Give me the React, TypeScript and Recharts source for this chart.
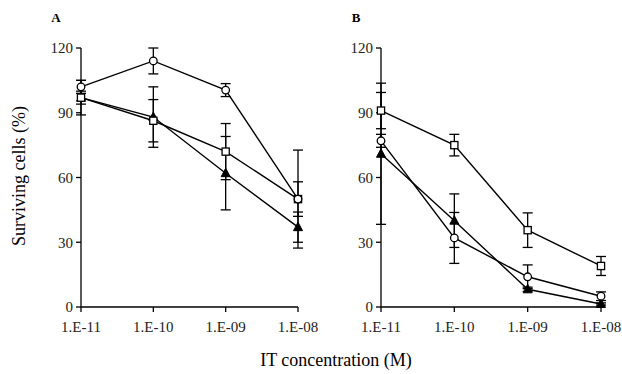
import React from "react";
import { LineChart, Line, XAxis, YAxis, ErrorBar } from "recharts";

const xLabels = ["1.E-11", "1.E-10", "1.E-09", "1.E-08"];
const yTicks = [0, 30, 60, 90, 120];

// Panel A
const circleA = [102, 114, 100.5, 50];
const circleAErr = [3, 6, 3, 22.7];
const squareA = [97, 86.3, 72, 50];
const squareAErr = [3, 9.8, 13, 8];
const triangleA = [97, 88, 62, 37];
const triangleAErr = [8, 14, 17, 7];

// Panel B
const circleB = [77, 32, 14, 5];
const circleBErr = [3, 11.8, 5.5, 2];
const squareB = [91, 75, 35.6, 19];
const squareBErr = [8.4, 5, 8, 4.4];
const triangleB = [71, 40, 8.2, 1.4];
const triangleBErr = [32.7, 12.4, 1, 0.5];

const build = (c: number[], ce: number[], s: number[], se: number[], t: number[], te: number[]) =>
  xLabels.map((_, i) => ({ x: i, c: c[i], ce: ce[i], s: s[i], se: se[i], t: t[i], te: te[i] }));

const dataA = build(circleA, circleAErr, squareA, squareAErr, triangleA, triangleAErr);
const dataB = build(circleB, circleBErr, squareB, squareBErr, triangleB, triangleBErr);

const FONT = "Liberation Serif";

const CircleDot = (p: any) => (
  <circle key={`c${p.index}`} cx={p.cx} cy={p.cy} r={3.8} fill="#fff" stroke="#000" strokeWidth={1.3} />
);
const SquareDot = (p: any) => (
  <rect key={`s${p.index}`} x={p.cx - 3.6} y={p.cy - 3.6} width={7.2} height={7.2} fill="#fff" stroke="#000" strokeWidth={1.3} />
);
const TriangleDot = (p: any) => (
  <polygon
    key={`t${p.index}`}
    points={`${p.cx},${p.cy - 5} ${p.cx - 4.5},${p.cy + 3.5} ${p.cx + 4.5},${p.cy + 3.5}`}
    fill="#000"
    stroke="#000"
    strokeWidth={1}
  />
);

const tickStyle = { fontFamily: FONT, fontSize: 15, fill: "#222" };

const Panel = ({ data, width, right }: { data: any[]; width: number; right: number }) => (
  <LineChart width={width} height={374} data={data} margin={{ top: 48, right, bottom: 37, left: 0 }}>
    <XAxis
      type="number"
      dataKey="x"
      domain={[0, 3]}
      ticks={[0, 1, 2, 3]}
      tickFormatter={(v: number) => xLabels[v]}
      height={30}
      tick={tickStyle}
      tickSize={5}
      tickMargin={9}
      axisLine={{ stroke: "#000", strokeWidth: 1.3 }}
      tickLine={{ stroke: "#000", strokeWidth: 1.3 }}
    />
    <YAxis
      type="number"
      domain={[0, 120]}
      ticks={yTicks}
      width={81}
      tick={tickStyle}
      tickSize={5}
      tickMargin={3}
      axisLine={{ stroke: "#000", strokeWidth: 1.3 }}
      tickLine={{ stroke: "#000", strokeWidth: 1.3 }}
    />
    <Line dataKey="t" stroke="#000" strokeWidth={1.4} dot={TriangleDot} isAnimationActive={false}>
      <ErrorBar dataKey="te" direction="y" width={5} stroke="#000" strokeWidth={1.3} />
    </Line>
    <Line dataKey="s" stroke="#000" strokeWidth={1.4} dot={SquareDot} isAnimationActive={false}>
      <ErrorBar dataKey="se" direction="y" width={5} stroke="#000" strokeWidth={1.3} />
    </Line>
    <Line dataKey="c" stroke="#000" strokeWidth={1.4} dot={CircleDot} isAnimationActive={false}>
      <ErrorBar dataKey="ce" direction="y" width={5} stroke="#000" strokeWidth={1.3} />
    </Line>
  </LineChart>
);

const labelStyle: React.CSSProperties = { fontFamily: FONT };

export default function App() {
  return (
    <div
      style={{
        position: "absolute",
        left: 0,
        top: 0,
        width: 622,
        height: 374,
        background: "#fff",
        fontFamily: FONT,
      }}
    >
      <div style={{ position: "absolute", left: 0, top: 0 }}>
        <Panel data={dataA} width={320} right={22} />
      </div>
      <div style={{ position: "absolute", left: 300, top: 0 }}>
        <Panel data={dataB} width={322} right={21} />
      </div>
      <svg
        width={622}
        height={374}
        style={{ position: "absolute", left: 0, top: 0, pointerEvents: "none" }}
      >
        <text x={56} y={22} textAnchor="middle" style={labelStyle} fontSize={13} fontWeight="bold" fill="#000">
          A
        </text>
        <text x={356} y={22} textAnchor="middle" style={labelStyle} fontSize={13} fontWeight="bold" fill="#000">
          B
        </text>
        <text transform="translate(25,176) rotate(-90)" textAnchor="middle" style={labelStyle} fontSize={18} fill="#000">
          Surviving cells (%)
        </text>
        <text x={336} y={366} textAnchor="middle" style={labelStyle} fontSize={18} fill="#000">
          IT concentration (M)
        </text>
      </svg>
    </div>
  );
}
